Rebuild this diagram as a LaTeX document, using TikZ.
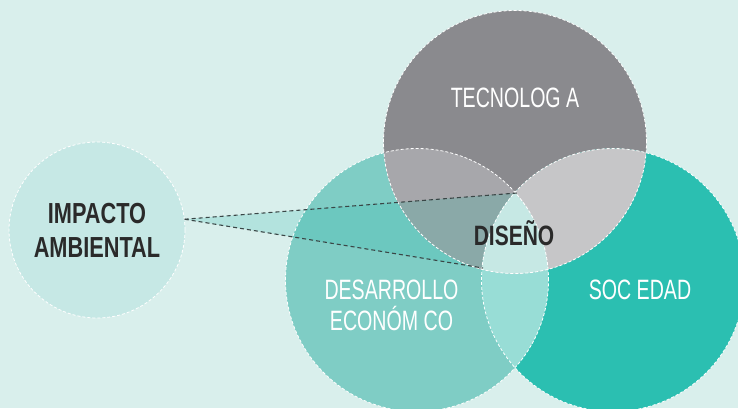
\documentclass[tikz,border=0pt]{standalone}
\usepackage{fontspec}
\newfontfamily\condreg{Liberation Sans}[FakeStretch=0.70]
\newfontfamily\condbold{Liberation Sans}[FakeStretch=0.75]
\definecolor{bgc}{HTML}{D9EFEC}
\definecolor{impc}{HTML}{C6E8E5}
\definecolor{grayc}{HTML}{8A8A8E}
\definecolor{gdc}{HTML}{A7A7AB}
\definecolor{gsc}{HTML}{C6C6C8}
\definecolor{desc}{HTML}{7FCDC5}
\definecolor{socc}{HTML}{2BBFB1}
\definecolor{dsc}{HTML}{98DDD6}
\definecolor{trc}{HTML}{C6E8E4}
\definecolor{wout}{HTML}{B3E3DE}
\definecolor{wdes}{HTML}{6CC8BF}
\definecolor{wgd}{HTML}{8AA9A8}
\definecolor{linec}{HTML}{3A4646}
\definecolor{txtdark}{HTML}{2A2A2A}
\tikzset{
  outl/.style={draw=white, line width=0.8pt, dash pattern=on 3pt off 2pt},
  conn/.style={draw=linec, line width=1.1pt, dash pattern=on 4pt off 3pt},
  lightlab/.style={text=white, font=\condreg\fontsize{28}{31}\selectfont, align=center, inner sep=0pt},
  darklab/.style={text=txtdark, font=\condbold\bfseries\fontsize{29}{34}\selectfont, align=center, inner sep=0pt},
}
\begin{document}
\begin{tikzpicture}[x=1pt,y=-1pt]
\useasboundingbox (0,0) rectangle (738,408);
\fill[bgc] (0,0) rectangle (738,408);
\def\R{131.5pt}
\coordinate (cg) at (515,142);
\coordinate (cd) at (417,280);
\coordinate (cs) at (613,280);
\coordinate (ptop) at (517,193);
\coordinate (pbot) at (483,268);
% impact circle
\node[circle, minimum size=176pt, inner sep=0pt, fill=impc, outl, darklab] (imp) at (97,230) {IMPACTO\\AMBIENTAL};
% wedge outside
\fill[wout] (imp.7) -- (ptop) -- (pbot) -- cycle;
% desarrollo
\fill[desc] (cd) circle (\R);
\begin{scope}
  \clip (cd) circle (\R);
  \fill[wdes] (imp.7) -- (ptop) -- (pbot) -- cycle;
\end{scope}
% tecnologia
\fill[grayc] (cg) circle (\R);
\begin{scope}
  \clip (cg) circle (\R);
  \fill[gdc] (cd) circle (\R);
  \clip (cd) circle (\R);
  \fill[wgd] (imp.7) -- (ptop) -- (pbot) -- cycle;
\end{scope}
% sociedad
\fill[socc] (cs) circle (\R);
\begin{scope}
  \clip (cs) circle (\R);
  \fill[dsc] (cd) circle (\R);
  \fill[gsc] (cg) circle (\R);
  \clip (cg) circle (\R);
  \fill[trc] (cd) circle (\R);
\end{scope}
% outlines
\draw[outl] (cd) circle (\R);
\draw[outl] (cg) circle (\R);
\draw[outl] (cs) circle (\R);
% connectors
\draw[conn] (imp.7) -- (ptop);
\draw[conn] (imp.7) -- (pbot);
% labels
\node[lightlab, anchor=base] (tec) at (515,107) {TECNOLOG A};
\node[lightlab, anchor=base] (soc) at (640,299) {SOC EDAD};
\node[lightlab, anchor=center] (des) at (391.5,305.5) {DESARROLLO\\ECONÓM CO};
\node[darklab, anchor=base, font=\condbold\bfseries\fontsize{28}{34}\selectfont] (dis) at (514,245) {DISEÑO};
\end{tikzpicture}
\end{document}
